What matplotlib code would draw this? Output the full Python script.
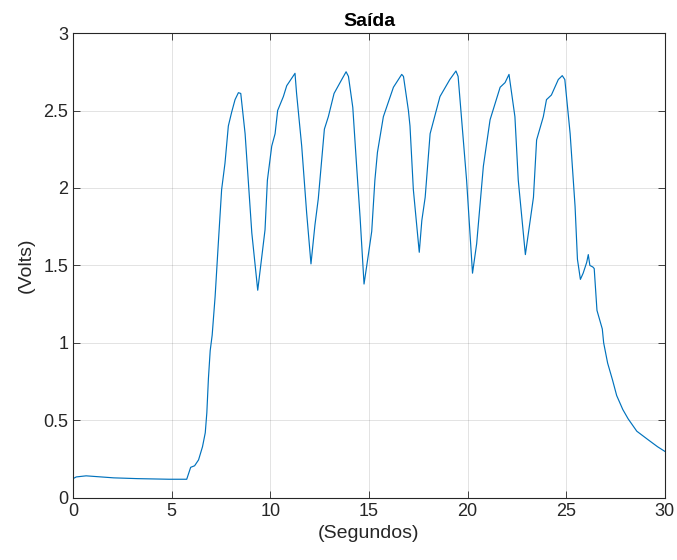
import matplotlib
matplotlib.use('Agg')
import matplotlib.pyplot as plt
import numpy as np

# tempo (s) e tensao de saida (V)
t = [0.0, 0.16, 0.66, 2.06, 3.26, 4.86, 5.76, 5.96, 6.16, 6.36, 6.56, 6.7, 6.78, 6.86,
     6.95, 7.05, 7.2, 7.37, 7.53, 7.7, 7.87, 8.04, 8.21, 8.38, 8.5, 8.72, 8.89, 9.06,
     9.36, 9.56, 9.73, 9.85, 10.07, 10.24, 10.37, 10.66, 10.83, 11.25, 11.33, 11.59,
     11.84, 12.06, 12.26, 12.43, 12.74, 12.94, 13.23, 13.62, 13.84, 13.96, 14.18, 14.38,
     14.55, 14.75, 14.97, 15.14, 15.3, 15.43, 15.73, 16.24, 16.66, 16.75, 17.0, 17.08,
     17.25, 17.55, 17.68, 17.85, 18.1, 18.6, 19.1, 19.41, 19.52, 19.95, 20.25, 20.46,
     20.8, 21.14, 21.65, 21.9, 22.1, 22.4, 22.57, 22.93, 23.34, 23.5, 23.84, 24.0,
     24.25, 24.6, 24.8, 24.93, 25.2, 25.45, 25.57, 25.72, 25.86, 26.04, 26.12, 26.2,
     26.35, 26.42, 26.56, 26.65, 26.83, 26.9, 27.1, 27.35, 27.56, 27.87, 28.14, 28.58,
     29.1, 29.63, 30.0]
v = [0.124, 0.135, 0.142, 0.129, 0.124, 0.12, 0.12, 0.197, 0.207, 0.245, 0.33, 0.42, 0.55, 0.77,
     0.95, 1.05, 1.3, 1.66, 1.99, 2.16, 2.40, 2.49, 2.57, 2.615, 2.61, 2.35, 2.03, 1.71,
     1.34, 1.55, 1.73, 2.05, 2.27, 2.35, 2.50, 2.59, 2.66, 2.74, 2.61, 2.27,
     1.84, 1.51, 1.76, 1.93, 2.38, 2.46, 2.61, 2.70, 2.75, 2.72, 2.52, 2.13,
     1.81, 1.38, 1.57, 1.72, 2.05, 2.23, 2.46, 2.65, 2.733, 2.72, 2.50, 2.40,
     1.99, 1.585, 1.79, 1.94, 2.35, 2.59, 2.70, 2.755, 2.72, 2.05, 1.45, 1.64,
     2.14, 2.44, 2.65, 2.68, 2.733, 2.46, 2.05, 1.57, 1.94, 2.31, 2.46, 2.57,
     2.60, 2.70, 2.725, 2.70, 2.35, 1.88, 1.54, 1.41, 1.45, 1.52, 1.57, 1.50,
     1.49, 1.48, 1.21, 1.17, 1.09, 1.0, 0.87, 0.76, 0.66, 0.57, 0.51, 0.43,
     0.38, 0.33, 0.30]

plt.rcParams['font.family'] = ['Liberation Sans', 'DejaVu Sans']

fig = plt.figure(figsize=(6.77, 5.6), dpi=100)
ax = fig.add_axes([0.108, 0.111, 0.874, 0.830])
ax.plot(t, v, color='#0072BD', linewidth=0.85)

ax.set_xlim(0, 30)
ax.set_ylim(0, 3)
ax.set_xticks(np.arange(0, 31, 5))
ax.set_yticks(np.arange(0, 3.01, 0.5))
ax.set_yticklabels(['0', '0.5', '1', '1.5', '2', '2.5', '3'])
ax.grid(True, color='#262626', alpha=0.15, linewidth=0.6)
ax.tick_params(direction='in', top=True, right=True, length=5, width=0.6,
               colors='#262626', labelsize=13, labelcolor='#262626')
for s in ax.spines.values():
    s.set_color('#262626')
    s.set_linewidth(0.8)

ax.set_title('Saída', fontsize=14, fontweight='bold', color='black', pad=5)
ax.set_xlabel('(Segundos)', fontsize=14, color='#262626', labelpad=4)
ax.set_ylabel('(Volts)', fontsize=14, color='#262626', labelpad=6)

fig.savefig('out.png', dpi=100)
